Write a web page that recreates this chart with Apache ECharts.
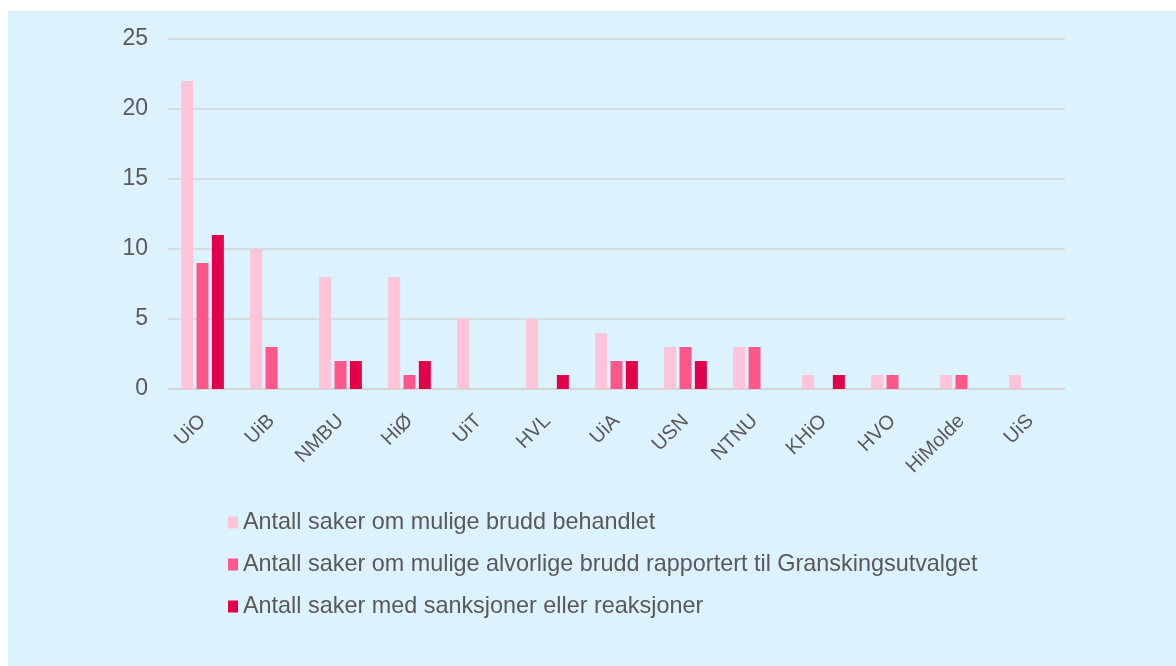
<!DOCTYPE html>
<html>
<head>
<meta charset="utf-8">
<script src="https://cdn.jsdelivr.net/npm/echarts@6/dist/echarts.min.js"></script>
<style>
  html, body { margin: 0; padding: 0; background: #fff; }
  #panel { position: absolute; left: 8px; top: 11px; width: 1168px; height: 655px; background: #dcf2fd; }
  #chart { position: absolute; left: 0; top: 0; width: 1176px; height: 666px; }
</style>
</head>
<body>
<div id="panel"></div>
<div id="chart"></div>
<script>
// institusjoner
const categories = ['UiO', 'UiB', 'NMBU', 'HiØ', 'UiT', 'HVL', 'UiA', 'USN', 'NTNU', 'KHiO', 'HVO', 'HiMolde', 'UiS'];

const behandlet = [22, 10, 8, 8, 5, 5, 4, 3, 3, 1, 1, 1, 1];
const rapportert = [9, 3, 2, 1, 0, 0, 2, 3, 3, 0, 1, 1, 0];
const sanksjoner = [11, 0, 2, 2, 0, 1, 2, 2, 0, 1, 0, 0, 0];

const seriesNames = [
  'Antall saker om mulige brudd behandlet',
  'Antall saker om mulige alvorlige brudd rapportert til Granskingsutvalget',
  'Antall saker med sanksjoner eller reaksjoner',
];
const seriesColors = ['#ffc4d7', '#ff578a', '#e2004b'];

const font = 'Arial, "Liberation Sans", sans-serif';
const textColor = '#595959';

const chart = echarts.init(document.getElementById('chart'));

const series = [behandlet, rapportert, sanksjoner].map((data, i) => ({
  name: seriesNames[i],
  type: 'bar',
  data,
  barWidth: 12,
  barGap: '28%',
  itemStyle: { color: seriesColors[i] },
}));

chart.setOption({
  animation: false,
  textStyle: { fontFamily: font },
  grid: {
    left: 168,
    right: 111,
    top: 39,
    bottom: 277,
    containLabel: false,
  },
  legend: {
    data: seriesNames,
    orient: 'vertical',
    left: 228,
    top: 511,
    padding: 0,
    icon: 'rect',
    itemWidth: 10,
    itemHeight: 12,
    itemGap: 19,
    textStyle: { fontSize: 23.4, color: textColor, fontFamily: font },
  },
  xAxis: {
    type: 'category',
    data: categories,
    axisTick: { show: false },
    axisLine: { lineStyle: { color: '#d4d4d4', width: 1.5 } },
    axisLabel: {
      rotate: 45,
      fontSize: 20,
      color: textColor,
      margin: 29,
      interval: 0,
    },
  },
  yAxis: {
    type: 'value',
    min: 0,
    max: 25,
    interval: 5,
    axisLine: { show: false },
    axisTick: { show: false },
    axisLabel: { fontSize: 23, color: textColor, margin: 20 },
    splitLine: { lineStyle: { color: '#d4d4d4', width: 1.5 } },
  },
  series,
});
</script>
</body>
</html>
